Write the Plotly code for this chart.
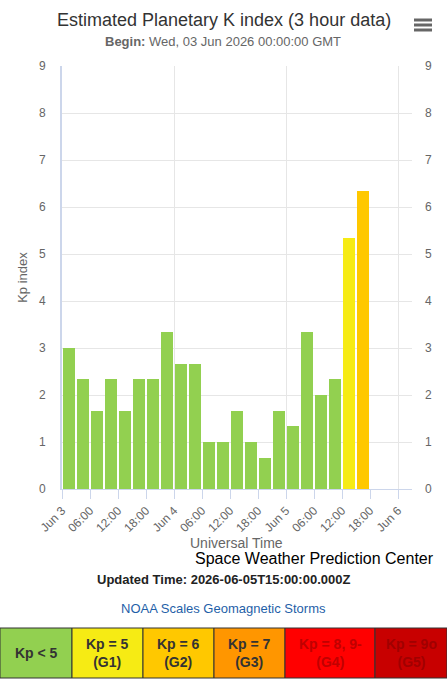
import plotly.graph_objects as go
import pandas as pd

# ---- data ----
start_times = pd.date_range("2026-06-03 00:00", periods=22, freq="3h")
kp_values = [3.00, 2.33, 1.67, 2.33, 1.67, 2.33, 2.33, 3.33,
             2.67, 2.67, 1.00, 1.00, 1.67, 1.00, 0.67, 1.67,
             1.33, 3.33, 2.00, 2.33, 5.33, 6.33]
tick_times = pd.date_range("2026-06-03 00:00", "2026-06-06 00:00", freq="6h")
tick_labels = ["Jun 3", "06:00", "12:00", "18:00", "Jun 4", "06:00", "12:00", "18:00",
               "Jun 5", "06:00", "12:00", "18:00", "Jun 6"]
day_times = pd.date_range("2026-06-03", "2026-06-06", freq="D")
scale_labels = ["Kp < 5", "Kp = 5<br>(G1)", "Kp = 6<br>(G2)", "Kp = 7<br>(G3)",
                "Kp = 8, 9-<br>(G4)", "Kp = 9o<br>(G5)"]
scale_colors = ["#92d050", "#f6eb14", "#ffc800", "#ff9600", "#ff0000", "#c80000"]
scale_text_colors = ["#333333", "#333333", "#333333", "#333333", "#c00000", "#a00000"]
scale_thresholds = [0, 5, 6, 7, 8, 9]


def kp_color(v):
    idx = 0
    for i, t in enumerate(scale_thresholds):
        if round(v) >= t:
            idx = i
    return scale_colors[idx]


bar_colors = [kp_color(v) for v in kp_values]

W, H = 447, 680
L, R, T, B = 62, 35, 66, 191
PW, PH = W - L - R, H - T - B


def px(x):
    return (x - L) / PW


def py(y):
    return (H - B - y) / PH


fig = go.Figure()
fig.add_trace(go.Bar(
    x=start_times, y=kp_values,
    xperiod=3 * 3600 * 1000, xperiodalignment="middle",
    width=0.82 * 3 * 3600 * 1000,
    marker=dict(color=bar_colors, line=dict(width=0)),
    hoverinfo="x+y", showlegend=False,
))
fig.add_trace(go.Scatter(
    x=day_times, y=[0] * len(day_times), xaxis="x2", yaxis="y2",
    mode="none", hoverinfo="skip", showlegend=False,
))

rng = [pd.Timestamp("2026-06-03 00:00"), pd.Timestamp("2026-06-06 03:00")]
font_family = "Liberation Sans, Arial, sans-serif"

fig.update_layout(
    width=W, height=H,
    margin=dict(l=L, r=R, t=T, b=B),
    paper_bgcolor="white", plot_bgcolor="white",
    font=dict(family=font_family, color="#666666", size=12),
    bargap=0,
    xaxis=dict(
        type="date", range=rng,
        tickvals=tick_times, ticktext=tick_labels, tickangle=-45,
        showgrid=False, ticks="outside", ticklen=9, tickcolor="#ccd6eb",
        showline=True, linecolor="#ccd6eb", linewidth=1,
        tickfont=dict(size=12, color="#666666"), zeroline=False,
    ),
    xaxis2=dict(
        type="date", range=rng, overlaying="x", matches="x",
        tickvals=day_times, showticklabels=False, ticks="",
        showgrid=True, gridcolor="#e6e6e6", gridwidth=1, zeroline=False,
    ),
    yaxis=dict(
        range=[0, 9], dtick=1, showgrid=True, gridcolor="#e6e6e6",
        zeroline=False, showline=True, linecolor="#ccd6eb", linewidth=2,
        tickfont=dict(size=12, color="#666666"), ticks="", ticklabelstandoff=12,
        title=dict(text="Kp index", font=dict(size=13, color="#666666"), standoff=8),
    ),
    yaxis2=dict(
        range=[0, 9], dtick=1, overlaying="y", side="right", matches="y",
        showgrid=False, zeroline=False, showline=False,
        tickfont=dict(size=12, color="#666666"), ticklabelstandoff=12,
    ),
)

ann = [
    dict(text="Estimated Planetary K index (3 hour data)", x=px(224), y=py(20),
         font=dict(size=18, color="#333333")),
    dict(text="<b>Begin:</b> Wed, 03 Jun 2026 00:00:00 GMT", x=px(223), y=py(42),
         font=dict(size=13, color="#666666")),
    dict(text="Universal Time", x=px(236), y=py(543),
         font=dict(size=14, color="#666666")),
    dict(text="Space Weather Prediction Center", x=px(436), y=py(558.5), xanchor="right",
         font=dict(size=16, color="#000000")),
    dict(text="<b>Updated Time: 2026-06-05T15:00:00.000Z</b>", x=px(223), y=py(579),
         font=dict(size=13, color="#222222")),
    dict(text="NOAA Scales Geomagnetic Storms", x=px(223), y=py(608),
         font=dict(size=13, color="#1f5fa8")),
]

box_edges = [0, 72, 143, 214, 285, 375, 447]
box_top, box_bottom = 628, 678
shapes = []
for i, (lab, col, tcol) in enumerate(zip(scale_labels, scale_colors, scale_text_colors)):
    x0, x1 = box_edges[i], box_edges[i + 1]
    shapes.append(dict(type="rect", xref="paper", yref="paper",
                       x0=px(x0), x1=px(x1), y0=py(box_bottom), y1=py(box_top),
                       fillcolor=col, line=dict(color="#333333", width=1)))
    ann.append(dict(text=f"<b>{lab}</b>", x=px((x0 + x1) / 2), y=py((box_top + box_bottom) / 2),
                    font=dict(size=14, color=tcol), align="center"))

# hamburger menu icon
for yy in (20, 25, 30):
    shapes.append(dict(type="line", xref="paper", yref="paper",
                       x0=px(414), x1=px(432), y0=py(yy), y1=py(yy),
                       line=dict(color="#666666", width=3)))

for a in ann:
    a.update(xref="paper", yref="paper", showarrow=False)
    a.setdefault("xanchor", "center")
    a.setdefault("yanchor", "middle")
    a.setdefault("font", {})
    a["font"]["family"] = font_family

fig.update_layout(annotations=ann, shapes=shapes)
fig.write_html(
    "out.html",
    config={"displayModeBar": False},
    post_script="document.body.style.margin='0';document.body.style.overflow='hidden';",
)
